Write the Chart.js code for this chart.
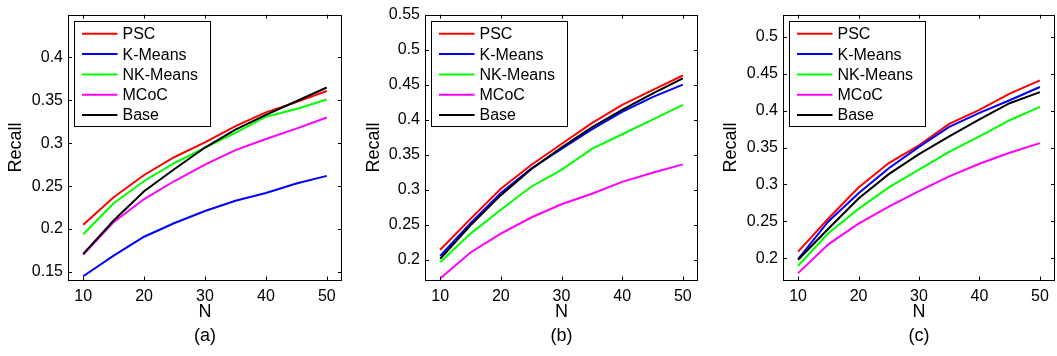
<!DOCTYPE html>
<html>
<head>
<meta charset="utf-8">
<script src="https://cdn.jsdelivr.net/npm/chart.js@4.4.1/dist/chart.umd.min.js"></script>
<style>
    body { margin: 0; background: #fff; width: 1057px; height: 356px; overflow: hidden; position: relative; }
    canvas { position: absolute; top: 0; }
</style>
</head>
<body>
<canvas id="chartA" width="350" height="356" style="left:0px"></canvas>
<canvas id="chartB" width="350" height="356" style="left:355px"></canvas>
<canvas id="chartC" width="347" height="356" style="left:710px"></canvas>
<script>
const N = [10, 15, 20, 25, 30, 35, 40, 45, 50];
const xTicks = [10, 20, 30, 40, 50];
const methods = ['PSC', 'K-Means', 'NK-Means', 'MCoC', 'Base'];
const colors = ['#ff0000', '#0000ff', '#00ff00', '#ff00ff', '#000000'];

// (a)
const pscA  = [0.205, 0.237, 0.263, 0.284, 0.301, 0.320, 0.336, 0.348, 0.361];
const kmA   = [0.145, 0.169, 0.191, 0.207, 0.221, 0.233, 0.242, 0.253, 0.262];
const nkA   = [0.194, 0.230, 0.256, 0.277, 0.295, 0.312, 0.331, 0.340, 0.351];
const mcocA = [0.170, 0.208, 0.235, 0.256, 0.275, 0.292, 0.305, 0.317, 0.330];
const baseA = [0.171, 0.210, 0.244, 0.270, 0.295, 0.316, 0.333, 0.349, 0.365];
const yTicksA = [0.15, 0.2, 0.25, 0.3, 0.35, 0.4];

// (b)
const pscB  = [0.214, 0.258, 0.301, 0.335, 0.365, 0.395, 0.421, 0.442, 0.463];
const kmB   = [0.205, 0.252, 0.295, 0.330, 0.358, 0.386, 0.411, 0.432, 0.450];
const nkB   = [0.196, 0.237, 0.271, 0.304, 0.328, 0.358, 0.379, 0.400, 0.421];
const mcocB = [0.173, 0.210, 0.237, 0.260, 0.279, 0.294, 0.311, 0.324, 0.336];
const baseB = [0.201, 0.249, 0.292, 0.329, 0.360, 0.389, 0.414, 0.437, 0.459];
const yTicksB = [0.2, 0.25, 0.3, 0.35, 0.4, 0.45, 0.5, 0.55];

// (c)
const pscC  = [0.209, 0.254, 0.296, 0.329, 0.353, 0.382, 0.401, 0.423, 0.441];
const kmC   = [0.199, 0.250, 0.288, 0.322, 0.351, 0.378, 0.397, 0.414, 0.432];
const nkC   = [0.190, 0.234, 0.267, 0.296, 0.320, 0.344, 0.365, 0.387, 0.405];
const mcocC = [0.180, 0.219, 0.247, 0.270, 0.291, 0.311, 0.328, 0.343, 0.356];
const baseC = [0.198, 0.240, 0.281, 0.314, 0.341, 0.365, 0.388, 0.410, 0.425];
const yTicksC = [0.2, 0.25, 0.3, 0.35, 0.4, 0.45, 0.5];

const FONT = "'Liberation Sans', Arial, sans-serif";

// matlab-ish box: frame, inward ticks on all sides, boxed legend top-left
const matlabBox = {
    id: 'matlabBox',
    afterDraw(chart) {
        const ctx = chart.ctx;
        const a = chart.chartArea;
        const xs = chart.scales.x;
        const ys = chart.scales.y;
        const tl = 4;
        ctx.save();
        ctx.strokeStyle = '#000';
        ctx.lineWidth = 1;
        ctx.beginPath();
        xs.ticks.forEach(t => {
            const x = Math.round(xs.getPixelForValue(t.value)) + 0.5;
            ctx.moveTo(x, a.bottom); ctx.lineTo(x, a.bottom - tl);
            ctx.moveTo(x, a.top); ctx.lineTo(x, a.top + tl);
        });
        ys.ticks.forEach(t => {
            const y = Math.round(ys.getPixelForValue(t.value)) + 0.5;
            ctx.moveTo(a.left, y); ctx.lineTo(a.left + tl, y);
            ctx.moveTo(a.right, y); ctx.lineTo(a.right - tl, y);
        });
        ctx.stroke();
        ctx.strokeRect(Math.round(a.left) + 0.5, Math.round(a.top) + 0.5,
            Math.round(a.right - a.left) - 1, Math.round(a.bottom - a.top) - 1);

        // legend
        const bx = Math.round(a.left + 6) + 0.5;
        const by = Math.round(a.top + 6) + 0.5;
        const bw = 136, bh = 105;
        ctx.fillStyle = '#fff';
        ctx.fillRect(bx, by, bw, bh);
        ctx.strokeRect(bx, by, bw, bh);
        ctx.font = '16px ' + FONT;
        ctx.textBaseline = 'middle';
        chart.data.datasets.forEach((ds, i) => {
            const cy = by + 12.3 + i * 20.3;
            ctx.strokeStyle = ds.borderColor;
            ctx.lineWidth = 2;
            ctx.beginPath();
            ctx.moveTo(bx + 7.5, cy);
            ctx.lineTo(bx + 43, cy);
            ctx.stroke();
            ctx.fillStyle = '#000';
            ctx.fillText(ds.label, bx + 48, cy + 1);
        });
        ctx.restore();
    }
};

function makeChart(id, series, yMin, yMax, yTicks, caption, yAxisWidth, rightPad, titlePad) {
    const ctx = document.getElementById(id).getContext('2d');
    return new Chart(ctx, {
        type: 'line',
        data: {
            datasets: series.map((vals, i) => ({
                label: methods[i],
                data: vals.map((v, j) => ({ x: N[j], y: v })),
                borderColor: colors[i],
                borderWidth: 2,
                pointRadius: 0,
                tension: 0,
                fill: false,
                order: series.length - i
            }))
        },
        options: {
            responsive: false,
            animation: false,
            devicePixelRatio: 1,
            layout: { padding: { top: 7, left: 0, right: rightPad, bottom: 0 } },
            plugins: {
                legend: { display: false },
                tooltip: { enabled: false }
            },
            scales: {
                x: {
                    type: 'linear',
                    min: 7.5,
                    max: 52.5,
                    grid: { display: false, drawTicks: false },
                    border: { display: false },
                    afterBuildTicks: s => { s.ticks = xTicks.map(v => ({ value: v })); },
                    afterFit: s => { s.height = 75.5; },
                    ticks: {
                        padding: 6,
                        color: '#000',
                        font: { family: FONT, size: 16 },
                        callback: v => String(v)
                    },
                    title: {
                        display: true,
                        text: ['N', caption],
                        color: '#000',
                        font: { family: FONT, size: 18, lineHeight: 1.3 },
                        padding: { top: 0, bottom: 8.6 }
                    }
                },
                y: {
                    min: yMin,
                    max: yMax,
                    grid: { display: false, drawTicks: false },
                    border: { display: false },
                    afterBuildTicks: s => { s.ticks = yTicks.map(v => ({ value: v })); },
                    afterFit: s => { s.width = yAxisWidth; },
                    ticks: {
                        padding: 5,
                        color: '#000',
                        font: { family: FONT, size: 16 },
                        callback: v => String(v)
                    },
                    title: {
                        display: true,
                        text: 'Recall',
                        color: '#000',
                        font: { family: FONT, size: 18, lineHeight: 1.2 },
                        padding: { top: titlePad, bottom: 0 }
                    }
                }
            }
        },
        plugins: [matlabBox]
    });
}

document.addEventListener('DOMContentLoaded', () => {
    makeChart('chartA', [pscA, kmA, nkA, mcocA, baseA], 0.14, 0.45, yTicksA, '(a)', 68, 8, 5.2);
    makeChart('chartB', [pscB, kmB, nkB, mcocB, baseB], 0.17, 0.55, yTicksB, '(b)', 70, 7, 8.2);
    makeChart('chartC', [pscC, kmC, nkC, mcocC, baseC], 0.17, 0.53, yTicksC, '(c)', 73, 2, 9.9);
});
</script>
</body>
</html>
